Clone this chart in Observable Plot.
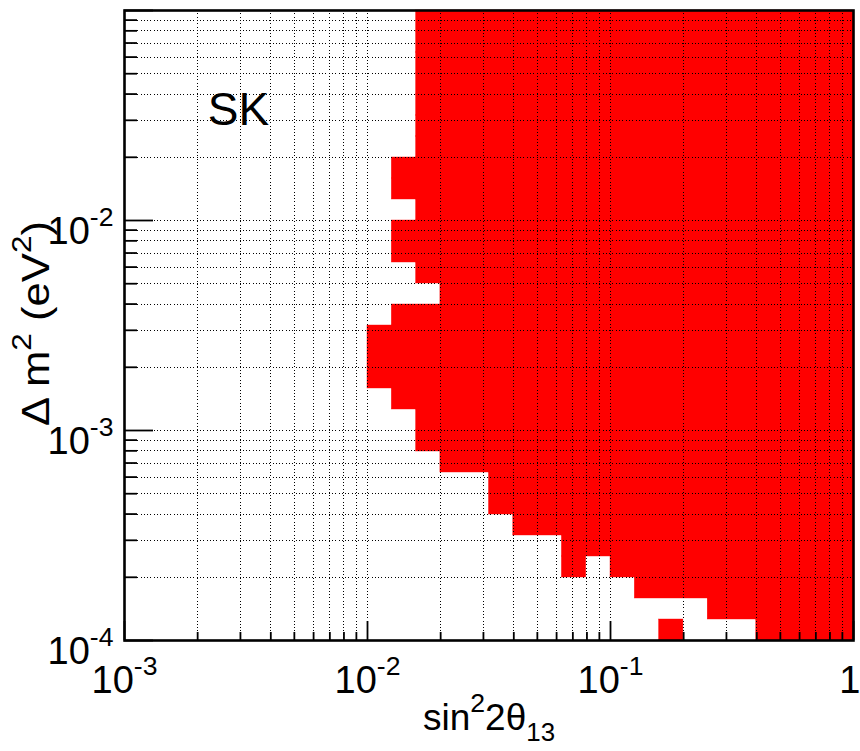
<!DOCTYPE html>
<html><head><meta charset="utf-8">
<script src="https://cdn.jsdelivr.net/npm/d3@7"></script>
<script src="https://cdn.jsdelivr.net/npm/@observablehq/plot@0.6"></script>
<style>html,body{margin:0;padding:0;background:#fff;} svg{display:block;}</style>
</head><body><div id="chart"></div>
<script>
// ---- data ----
const xDomain = [1e-3, 1];          // sin^2 2θ13
const yDomain = [1e-4, 1e-1];       // Δm² (eV²)
// Δm² bin edges (log10), 31 edges -> 30 rows
const dm2EdgeExp = [-4.0,-3.9,-3.8,-3.7,-3.6,-3.5,-3.4,-3.3,-3.2,-3.1,-3.0,-2.9,-2.8,-2.7,-2.6,-2.5,-2.4,-2.3,-2.2,-2.1,-2.0,-1.9,-1.8,-1.7,-1.6,-1.5,-1.4,-1.3,-1.2,-1.1,-1.0];
// excluded (red) sin² ranges per Δm² row, as log10 [from, to]
const redSegments = [
  [[-0.8,-0.7],[-0.4,0]],   // -4.0
  [[-0.6,0]],               // -3.9
  [[-0.9,0]],               // -3.8
  [[-1.2,-1.1],[-1.0,0]],   // -3.7
  [[-1.2,0]],               // -3.6
  [[-1.4,0]],               // -3.5
  [[-1.5,0]],               // -3.4
  [[-1.5,0]],               // -3.3
  [[-1.7,0]],               // -3.2
  [[-1.8,0]],               // -3.1
  [[-1.8,0]],               // -3.0
  [[-1.9,0]],               // -2.9
  [[-2.0,0]],               // -2.8
  [[-2.0,0]],               // -2.7
  [[-2.0,0]],               // -2.6
  [[-1.9,0]],               // -2.5
  [[-1.7,0]],               // -2.4
  [[-1.8,0]],               // -2.3
  [[-1.9,0]],               // -2.2
  [[-1.9,0]],               // -2.1
  [[-1.8,0]],               // -2.0
  [[-1.9,0]],               // -1.9
  [[-1.9,0]],               // -1.8
  [[-1.8,0]],               // -1.7
  [[-1.8,0]],               // -1.6
  [[-1.8,0]],               // -1.5
  [[-1.8,0]],               // -1.4
  [[-1.8,0]],               // -1.3
  [[-1.8,0]],               // -1.2
  [[-1.8,0]]                // -1.1
];
const xMajorTicks = [1e-3, 1e-2, 1e-1, 1];
const xTickLabels = ["10^{-3}", "10^{-2}", "10^{-1}", "1"];
const yMajorTicks = [1e-4, 1e-3, 1e-2, 1e-1];
const yLabelTicks = [1e-4, 1e-3, 1e-2];
const yTickLabels = ["10^{-4}", "10^{-3}", "10^{-2}"];
const xTitle = "sin^{2}2θ_{13}";
const yTitle = "Δ m^{2} (eV^{2})";
const annotation = [{x: 0.0022, y: 0.0286, text: "SK"}];

// ---- derived ----
const cells = [];
redSegments.forEach((segs, i) => segs.forEach(([a, b]) => cells.push({
  x1: 10 ** a, x2: 10 ** b, y1: 10 ** dm2EdgeExp[i], y2: 10 ** dm2EdgeExp[i + 1]
})));
const xAll = d3.scaleLog().domain(xDomain).ticks();
const yAll = d3.scaleLog().domain(yDomain).ticks();
const isMajor = (v, arr) => arr.some(m => Math.abs(v / m - 1) < 1e-9);
const xMinor = xAll.filter(v => !isMajor(v, xMajorTicks));
const yMinor = yAll.filter(v => !isMajor(v, yMajorTicks));
const xGrid = xAll.filter(v => v > xDomain[0] * 1.0001 && v < xDomain[1] * 0.9999);
const yGrid = yAll.filter(v => v > yDomain[0] * 1.0001 && v < yDomain[1] * 0.9999);
const xLab = xMajorTicks.map((v, i) => ({v, t: xTickLabels[i]}));

const FONT = "'Liberation Sans', Arial, Helvetica, sans-serif";
const dots = {stroke: "#000", strokeWidth: 1, strokeDasharray: "1,2.3", shapeRendering: "crispEdges"};
const noText = {tickFormat: () => "", label: null, stroke: "#000", strokeWidth: 1.8};

const chart = Plot.plot({
  width: 860,
  height: 751,
  marginLeft: 124,
  marginRight: 7,
  marginTop: 10,
  marginBottom: 111,
  style: {fontFamily: FONT, background: "#fff", color: "#000"},
  x: {type: "log", domain: xDomain, axis: null},
  y: {type: "log", domain: yDomain, axis: null},
  marks: [
    Plot.rect(cells, {x1: "x1", x2: "x2", y1: "y1", y2: "y2", fill: "#ff0000", stroke: "#ff0000", strokeWidth: 0.4}),
    Plot.ruleX(xGrid, dots),
    Plot.ruleY(yGrid, dots),
    Plot.axisX(xMinor, {anchor: "bottom", tickSize: -8, ...noText}),
    Plot.axisX(xMajorTicks, {anchor: "bottom", tickSize: -19, ...noText}),
    Plot.axisY(yMinor, {anchor: "left", tickSize: -13, ...noText}),
    Plot.axisY(yMajorTicks, {anchor: "left", tickSize: -29, ...noText}),
    Plot.frame({stroke: "#000", strokeWidth: 2.6}),
    Plot.text(xLab.slice(0, 3), {x: "v", text: "t", frameAnchor: "bottom", lineAnchor: "bottom", textAnchor: "middle", dy: 52, fontSize: 38, fill: "#000"}),
    Plot.text(xLab.slice(3), {x: "v", text: "t", frameAnchor: "bottom", lineAnchor: "bottom", textAnchor: "end", dx: 7, dy: 52, fontSize: 38, fill: "#000"}),
    Plot.text(yLabelTicks, {y: d => d, text: (d, i) => yTickLabels[i], frameAnchor: "left", lineAnchor: "bottom", textAnchor: "end", dx: -11, dy: 23, fontSize: 38, fill: "#000"}),
    Plot.text([xTitle], {text: d => d, frameAnchor: "bottom", lineAnchor: "bottom", textAnchor: "middle", dy: 89, fontSize: 37, fill: "#000"}),
    Plot.text([yTitle], {text: d => d, frameAnchor: "left", lineAnchor: "bottom", textAnchor: "middle", rotate: -90, dx: -76, dy: -2, fontSize: 38, fill: "#000"}),
    Plot.text(annotation, {x: "x", y: "y", text: "text", textAnchor: "start", lineAnchor: "bottom", fontSize: 46, fill: "#000"})
  ]
});

// rich text: ^{..} superscript, _{..} subscript
function richText(el, supScale) {
  const s = el.textContent;
  if (!/[\^_]\{/.test(s)) return;
  const F = parseFloat(getComputedStyle(el).fontSize) || 40;
  const parts = s.split(/(\^\{[^}]*\}|_\{[^}]*\})/).filter(p => p.length);
  el.textContent = "";
  let cur = 0;
  for (const p of parts) {
    let txt = p, shift = 0, size = F;
    if (p.startsWith("^{")) { txt = p.slice(2, -1); shift = -0.47 * F; size = supScale * F; }
    else if (p.startsWith("_{")) { txt = p.slice(2, -1); shift = 0.3 * F; size = 0.7 * F; }
    const t = document.createElementNS("http://www.w3.org/2000/svg", "tspan");
    t.setAttribute("font-size", size);
    if (shift - cur !== 0) t.setAttribute("dy", shift - cur);
    t.textContent = txt;
    el.appendChild(t);
    cur = shift;
  }
}
document.getElementById("chart").appendChild(chart);
chart.querySelectorAll("text").forEach(el => {
  const s = el.textContent;
  if (s === yTitle) {
    // stretch along the reading direction, as in the reference
    const tr = el.getAttribute("transform") || "";
    el.setAttribute("transform", tr + " scale(1.15,1)");
    richText(el, 0.72);
  } else if (s === xTitle) {
    richText(el, 0.72);
  } else {
    richText(el, 0.7);
  }
});
</script>
</body></html>
